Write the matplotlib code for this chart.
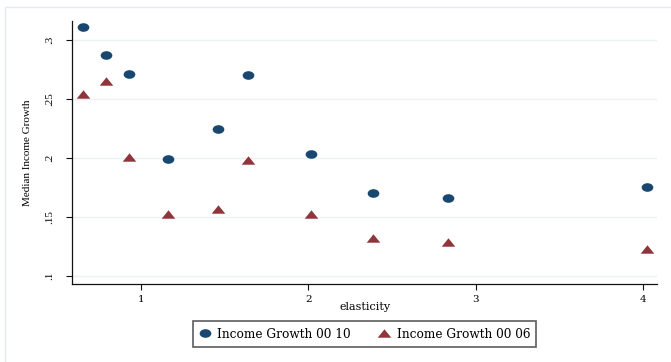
import matplotlib
matplotlib.use("Agg")
import matplotlib.pyplot as plt
import numpy as np
from matplotlib.path import Path
from matplotlib.patches import Rectangle

# ---- data ----
elasticity = [0.651, 0.788, 0.929, 1.162, 1.460, 1.639, 2.014, 2.384, 2.833, 4.021]
growth_00_10 = [0.311, 0.2875, 0.271, 0.199, 0.2244, 0.2702, 0.2034, 0.1704, 0.1664, 0.1752]
growth_00_06 = [0.254, 0.2658, 0.2008, 0.152, 0.1565, 0.1979, 0.1528, 0.1324, 0.1283, 0.1228]
series_labels = ["Income Growth 00 10", "Income Growth 00 06"]
yticks = [0.1, 0.15, 0.2, 0.25, 0.3]
ytick_labels = [".1", ".15", ".2", ".25", ".3"]
xticks = [1, 2, 3, 4]
xtick_labels = ["1", "2", "3", "4"]

NAVY = "#1a476f"
MAROON = "#90353b"
GRID = "#eaf2f3"

W, H = 671, 362
fig = plt.figure(figsize=(W / 100, H / 100), dpi=100)
fig.patch.set_facecolor("white")

# outer graph-region border
fig.patches.append(Rectangle((5 / W, -0.05), 1.2, 1 - 7 / H + 0.05, transform=fig.transFigure,
                             fill=False, edgecolor="#e3ecee", linewidth=1.0))

left, right, top, bottom = 72.3, 657, 21, 284
ax = fig.add_axes([left / W, 1 - bottom / H, (right - left) / W, (bottom - top) / H])

# custom markers: slightly wide ellipse and flat triangle
circ = Path.unit_circle()
ell = Path(circ.vertices * np.array([1.0, 0.74]), circ.codes)
tri = Path([(-1, -0.62), (1, -0.62), (0, 0.62), (-1, -0.62)],
           [Path.MOVETO, Path.LINETO, Path.LINETO, Path.CLOSEPOLY])

ax.plot(elasticity, growth_00_10, linestyle="none", marker=ell, markersize=8.4,
        color=NAVY, markeredgewidth=0, zorder=3, label=series_labels[0])
ax.plot(elasticity, growth_00_06, linestyle="none", marker=tri, markersize=9.8,
        color=MAROON, markeredgewidth=0, zorder=3, label=series_labels[1])

ax.set_xlim(0.589, 4.082)
ax.set_ylim(0.0929, 0.3164)

for s in ["top", "right"]:
    ax.spines[s].set_visible(False)
for s in ["left", "bottom"]:
    ax.spines[s].set_linewidth(0.9)
    ax.spines[s].set_color("#111111")

ax.set_yticks(yticks)
ax.set_yticklabels(ytick_labels, rotation=90, va="center",
                   family="Liberation Serif", fontsize=8)
ax.set_xticks(xticks)
ax.set_xticklabels(xtick_labels, family="DejaVu Serif", fontsize=7.5)
ax.tick_params(axis="y", length=4, width=0.8, pad=9, color="#111111")
ax.tick_params(axis="x", length=4, width=0.8, pad=4, color="#111111")
ax.grid(axis="y", color=GRID, linewidth=1.0, zorder=0)
ax.set_axisbelow(True)

ax.set_ylabel("Median Income Growth", family="Liberation Serif", fontsize=8, va="center")
ax.yaxis.set_label_coords((27.5 - left) / (right - left), 0.5)
ax.set_xlabel("elasticity", family="DejaVu Serif", fontsize=8, va="center")
ax.xaxis.set_label_coords(0.5, -(307 - bottom) / (bottom - top))

leg = fig.legend(loc="center",
                 bbox_to_anchor=(364.5 / W, 1 - 334 / H),
                 ncol=2, frameon=True, fancybox=False,
                 prop={"family": "DejaVu Serif", "size": 8.7},
                 handlelength=1.0, handletextpad=0.5, borderpad=0.5,
                 borderaxespad=0, columnspacing=2.3)
leg.get_frame().set_edgecolor("#333333")
leg.get_frame().set_linewidth(1.2)

fig.savefig("out.png", dpi=100)
